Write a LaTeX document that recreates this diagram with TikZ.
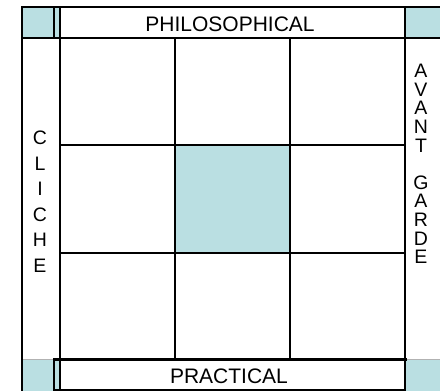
\documentclass[tikz,border=0pt]{standalone}
\usepackage{fontspec}
\setmainfont{Liberation Sans}
\definecolor{cy}{RGB}{186,223,226}
\begin{document}
\begin{tikzpicture}[x=1pt,y=-1pt,
  grid/.style={line width=2pt, line cap=rect, black},
  thickline/.style={line width=3pt, line cap=rect, black},
  faint/.style={line width=1pt, gray!60},
  lbl/.style={font=\fontsize{21}{24}\selectfont, inner sep=0pt, anchor=base},
  stack/.style={inner sep=0pt, align=center, anchor=center},
  cell/.style={fill=cy, draw=none}]
\useasboundingbox (0,0) rectangle (440,391);
% cyan fills
\fill[cell] (22,7) rectangle (60,38);
\fill[cell] (405,7) rectangle (440,38);
\fill[cell] (22,359) rectangle (60,391);
\fill[cell] (405,359) rectangle (440,391);
\fill[cell] (175,145) rectangle (290,253);
% faint lines
\draw[faint] (22,359) -- (54,359);
\draw[faint] (405,359.5) -- (440,359.5);
% vertical lines
\draw[grid] (22,7) -- (22,391);
\draw[grid] (60,7) -- (60,391);
\draw[grid] (54,7) -- (54,38);
\draw[grid] (54,359) -- (54,390);
\draw[grid] (175,38) -- (175,359);
\draw[grid] (290,38) -- (290,359);
\draw[grid] (405,7) -- (405,391);
% horizontal lines
\draw[grid] (22,7) -- (440,7);
\draw[grid] (22,38) -- (440,38);
\draw[grid] (60,145) -- (405,145);
\draw[grid] (60,253) -- (405,253);
\draw[thickline] (54,359) -- (405,359);
\draw[grid] (54,390) -- (405,390);
% header texts
\node[lbl] (phil) at (230,31) {PHILOSOPHICAL};
\node[lbl] (prac) at (229,383) {PRACTICAL};
% left column
\node[stack, font=\fontsize{19.5}{25.5}\selectfont] (cliche) at (40,201.5)
  {C\\L\\I\\C\\H\\E};
% right column
\node[stack, font=\fontsize{19.5}{18.6}\selectfont] (avant) at (421,164)
  {A\\V\\A\\N\\T\\~\\G\\A\\R\\D\\E};
\end{tikzpicture}
\end{document}
